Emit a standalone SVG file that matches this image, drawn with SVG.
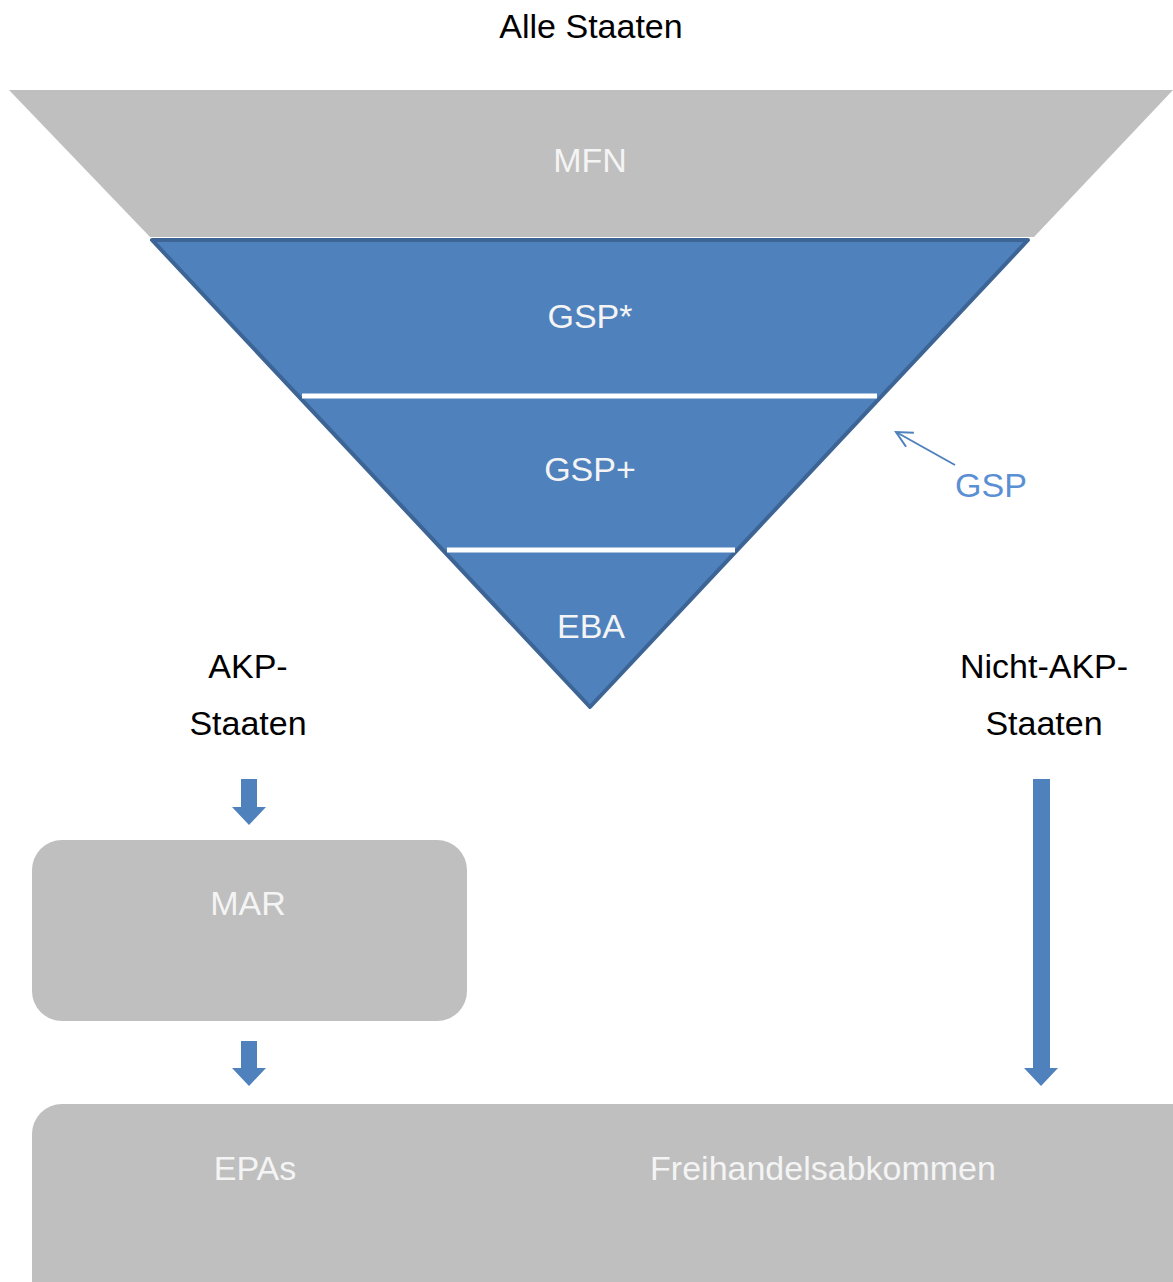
<svg xmlns="http://www.w3.org/2000/svg" width="1173" height="1282" viewBox="0 0 1173 1282">
<defs>
<style>
text{font-family:"Liberation Sans",Arial,sans-serif;font-size:34px;text-anchor:middle}
.dark{fill:#000}
.light{fill:#F4F4F4}
.blue{fill:#4F81BD}
.gray{fill:#BFBFBF}
.sep{stroke:#FFFFFF;stroke-width:5}
</style>
<marker id="open" viewBox="0 0 20 20" refX="18" refY="10" markerWidth="20" markerHeight="20" markerUnits="userSpaceOnUse" orient="auto">
<path d="M2,2 L18,10 L2,18" fill="none" stroke="#4F81BD" stroke-width="2"/>
</marker>
</defs>
<rect width="1173" height="1282" fill="#FFFFFF"/>
<g id="title"><text x="591" y="38" class="dark">Alle Staaten</text></g>
<g id="mfn">
<polygon points="9,90 1173,90 1034,237 150,237" class="gray"/>
<text x="590" y="172" class="light">MFN</text>
</g>
<g id="gsp-triangle">
<polygon points="152,240 1028,240 590,707" class="blue" stroke="#3C6494" stroke-width="4" stroke-linejoin="round"/>
<line x1="302" y1="396" x2="877" y2="396" class="sep"/>
<line x1="447" y1="550" x2="735" y2="550" class="sep"/>
<text x="590" y="328" class="light">GSP*</text>
<text x="590" y="481" class="light">GSP+</text>
<text x="591" y="638" class="light">EBA</text>
</g>
<g id="gsp-label"><text x="991" y="497" fill="#5B8FD3">GSP</text></g>
<g id="akp"><text x="248" y="678" class="dark">AKP-</text><text x="248" y="735" class="dark">Staaten</text></g>
<g id="nicht-akp"><text x="1044" y="678" class="dark">Nicht-AKP-</text><text x="1044" y="735" class="dark">Staaten</text></g>
<g id="mar">
<rect x="32" y="840" width="435" height="181" rx="30" class="gray"/>
<text x="248" y="915" class="light">MAR</text>
</g>
<g id="bottom">
<rect x="32" y="1104" width="1171" height="210" rx="30" class="gray"/>
<text x="255" y="1180" class="light">EPAs</text>
<text x="823" y="1180" class="light">Freihandelsabkommen</text>
</g>
<g id="connectors">
<line x1="955" y1="465" x2="896" y2="432" stroke="#4F81BD" stroke-width="2" marker-end="url(#open)"/>
<polygon points="241,779 257,779 257,807 266,807 249,825 232,807 241,807" class="blue"/>
<polygon points="241,1041 257,1041 257,1068 266,1068 249,1086 232,1068 241,1068" class="blue"/>
<polygon points="1033,779 1050,779 1050,1068 1058,1068 1041,1086 1024,1068 1033,1068" class="blue"/>
</g>
</svg>
